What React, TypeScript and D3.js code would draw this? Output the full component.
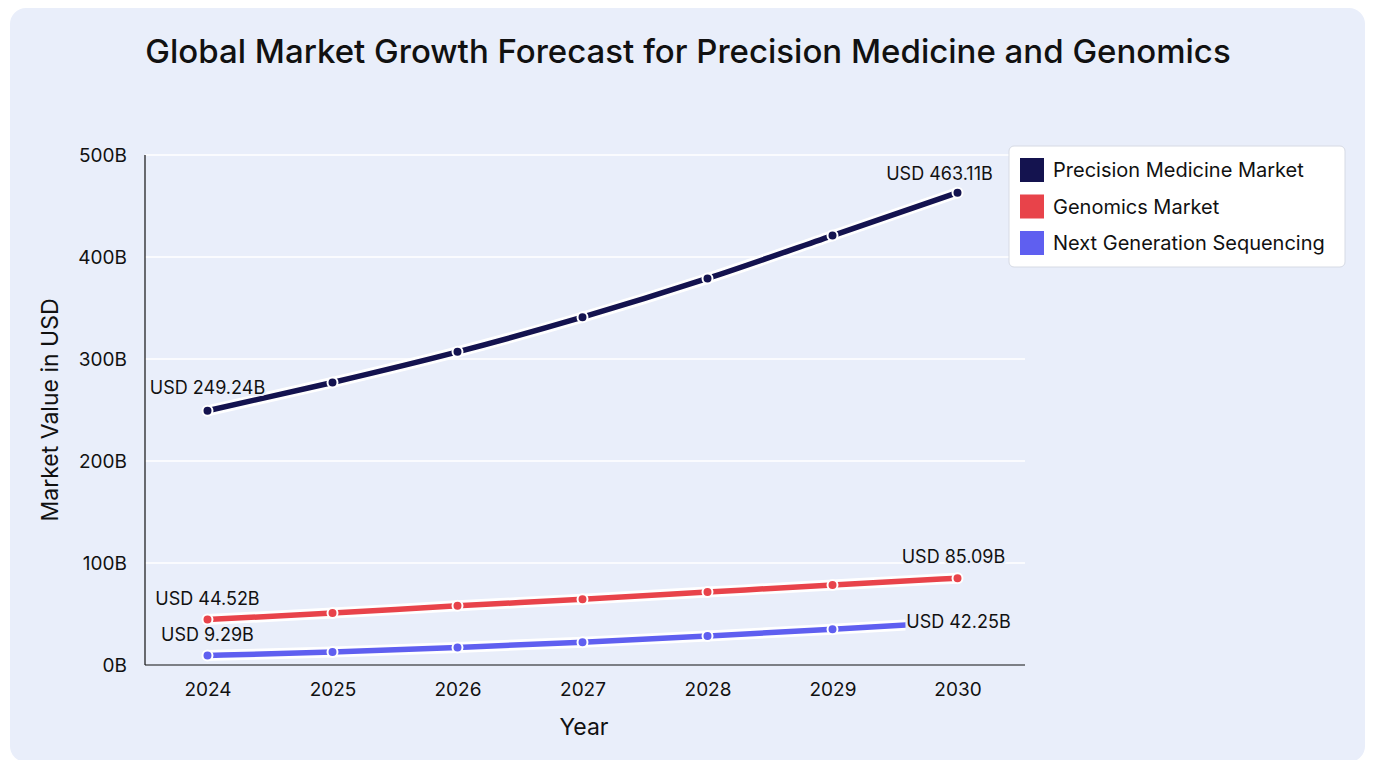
import React, { useEffect, useRef } from "react";
import * as d3 from "d3";

const years = ["2024", "2025", "2026", "2027", "2028", "2029", "2030"];
const precisionMedicine = [249.24, 277, 307, 341, 379, 421, 463.11];
const genomics = [44.52, 51, 58, 64.5, 71.5, 78.5, 85.09];
const nextGenSequencing = [9.29, 12.8, 17.2, 22.4, 28.5, 35, 42.25];
const seriesNames = ["Precision Medicine Market", "Genomics Market", "Next Generation Sequencing"];
const yTicks = [0, 100, 200, 300, 400, 500];

const W = 1376;
const H = 768;
const BG = "#e9eefa";
const FONT = "Inter, 'Noto Sans', sans-serif";

const App = () => {
  const ref = useRef<SVGSVGElement>(null);

  useEffect(() => {
    const svg = d3.select(ref.current);
    svg.selectAll("*").remove();

    const margin = { left: 145, right: 351, top: 155, bottom: 103 };
    const x = d3.scalePoint<string>().domain(years).range([margin.left, 1020]).padding(0.5);
    const y = d3.scaleLinear().domain([0, 500]).range([H - margin.bottom, margin.top]);

    // card background
    svg.append("rect").attr("width", W).attr("height", H).attr("fill", "#ffffff");
    svg.append("rect")
      .attr("x", 10).attr("y", 8).attr("width", 1355).attr("height", 754)
      .attr("rx", 16).attr("fill", BG);

    svg.append("text")
      .attr("x", 688).attr("y", 63)
      .attr("text-anchor", "middle")
      .attr("font-family", FONT).attr("font-size", 33).attr("font-weight", 500)
      .attr("fill", "#111")
      .text("Global Market Growth Forecast for Precision Medicine and Genomics");

    // gridlines
    svg.append("g")
      .selectAll("line")
      .data(yTicks.filter(d => d > 0))
      .join("line")
      .attr("x1", margin.left).attr("x2", W - margin.right)
      .attr("y1", d => y(d)).attr("y2", d => y(d))
      .attr("stroke", "#ffffff").attr("stroke-width", 1.5);

    // axes
    const yAxis = svg.append("g")
      .attr("transform", `translate(${margin.left},0)`)
      .call(d3.axisLeft(y).tickValues(yTicks).tickSize(0).tickPadding(18).tickFormat(d => `${d}B`));
    const xAxis = svg.append("g")
      .attr("transform", `translate(0,${H - margin.bottom})`)
      .call(d3.axisBottom(x).tickSize(0).tickPadding(18));
    [yAxis, xAxis].forEach(g => {
      g.select(".domain").attr("stroke", "#111").attr("stroke-width", 1.2);
      g.selectAll("text").attr("font-family", FONT).attr("font-size", 19).attr("fill", "#111");
    });
    yAxis.select(".domain").attr("d", `M0,${margin.top}V${H - margin.bottom}`);
    xAxis.select(".domain").attr("d", `M${margin.left},0H${W - margin.right}`);

    svg.append("text")
      .attr("x", 584).attr("y", 735)
      .attr("text-anchor", "middle")
      .attr("font-family", FONT).attr("font-size", 23).attr("fill", "#111")
      .text("Year");
    svg.append("text")
      .attr("transform", `translate(58,${(margin.top + H - margin.bottom) / 2}) rotate(-90)`)
      .attr("text-anchor", "middle")
      .attr("font-family", FONT).attr("font-size", 23).attr("fill", "#111")
      .text("Market Value in USD");

    const series = [
      { name: seriesNames[0], values: precisionMedicine, color: "#14134f" },
      { name: seriesNames[1], values: genomics, color: "#e8434a" },
      { name: seriesNames[2], values: nextGenSequencing, color: "#5f5ff0" },
    ];

    const line = d3.line<number>()
      .x((_, i) => x(years[i]) as number)
      .y(d => y(d))
      .curve(d3.curveMonotoneX);

    series.forEach(s => {
      const g = svg.append("g");
      g.append("path")
        .attr("d", line(s.values))
        .attr("fill", "none").attr("stroke", "#ffffff")
        .attr("stroke-width", 11).attr("stroke-linecap", "round");
      g.append("path")
        .attr("d", line(s.values))
        .attr("fill", "none").attr("stroke", s.color)
        .attr("stroke-width", 5.5).attr("stroke-linecap", "round");
      g.selectAll("circle")
        .data(s.values)
        .join("circle")
        .attr("cx", (_, i) => x(years[i]) as number)
        .attr("cy", d => y(d))
        .attr("r", 5)
        .attr("fill", s.color)
        .attr("stroke", "#ffffff").attr("stroke-width", 2);
    });

    // value labels on first and last points
    const labels = [
      { v: precisionMedicine[0], i: 0, dx: 0, dy: -17, box: false },
      { v: precisionMedicine[6], i: 6, dx: -18, dy: -13, box: false },
      { v: genomics[0], i: 0, dx: 0, dy: -15, box: false },
      { v: genomics[6], i: 6, dx: -4, dy: -15, box: false },
      { v: nextGenSequencing[0], i: 0, dx: 0, dy: -15, box: false },
      { v: nextGenSequencing[6], i: 6, dx: 1, dy: 6, box: true },
    ];
    labels.forEach(l => {
      const cx = (x(years[l.i]) as number) + l.dx;
      const cy = y(l.v) + l.dy;
      const t = `USD ${l.v.toFixed(2)}B`;
      if (l.box) {
        svg.append("rect")
          .attr("x", cx - 53).attr("y", cy - 17).attr("width", 106).attr("height", 23)
          .attr("fill", BG);
      }
      svg.append("text")
        .attr("x", cx).attr("y", cy)
        .attr("text-anchor", "middle")
        .attr("font-family", FONT).attr("font-size", 18).attr("fill", "#111")
        .attr("stroke", BG).attr("stroke-width", 4).attr("paint-order", "stroke")
        .text(t);
    });

    // legend
    const lg = svg.append("g").attr("transform", "translate(1009,146)");
    lg.append("rect")
      .attr("width", 336).attr("height", 121).attr("rx", 5)
      .attr("fill", "#ffffff").attr("stroke", "#d6dae4");
    series.forEach((s, i) => {
      lg.append("rect")
        .attr("x", 11).attr("y", 12 + i * 36.5).attr("width", 24).attr("height", 24)
        .attr("fill", s.color);
      lg.append("text")
        .attr("x", 44).attr("y", 31 + i * 36.5)
        .attr("font-family", FONT).attr("font-size", 20).attr("fill", "#111")
        .text(s.name);
    });
  }, []);

  return <svg ref={ref} width={W} height={H} style={{ display: "block", margin: "-8px" }} />;
};

export default App;
